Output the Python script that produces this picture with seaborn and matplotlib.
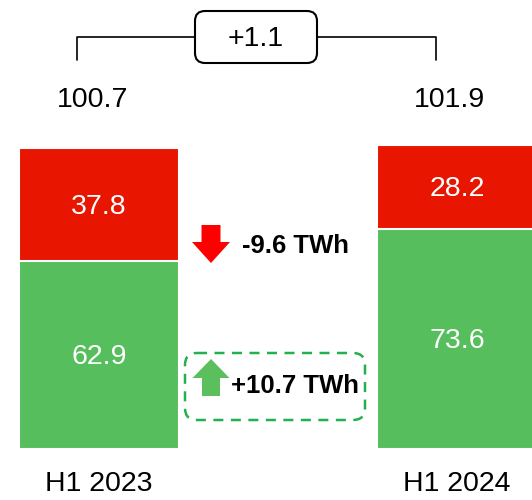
"""Stacked bar: H1 2023 vs H1 2024 generation split (red vs green)."""

import matplotlib

matplotlib.use("Agg")
import matplotlib.pyplot as plt  # noqa: E402
import pandas as pd  # noqa: E402
import seaborn as sns  # noqa: E402
from matplotlib.patches import FancyArrow, FancyBboxPatch  # noqa: E402

periods = ["H1 2023", "H1 2024"]
green_vals = [62.9, 73.6]
red_vals = [37.8, 28.2]
totals = ["100.7", "101.9"]
delta_total = "+1.1"
delta_red = "-9.6 TWh"
delta_green = "+10.7 TWh"

RED = "#E81500"
GREEN = "#57BE5E"

sns.set_theme(style="white")
plt.rcParams["font.family"] = ["Liberation Sans", "DejaVu Sans"]
plt.rcParams["text.color"] = "black"

df = pd.DataFrame({"period": periods, "green": green_vals, "red": red_vals})
df["total"] = df["green"] + df["red"]

fig = plt.figure(figsize=(5.32, 5.0), dpi=100)
ax = fig.add_axes([0, 0, 1, 1])

# stacked: full-height red bar, green drawn over the bottom part
sns.barplot(data=df, x="period", y="total", color=RED, width=0.447,
            saturation=1, edgecolor="white", linewidth=1.5, ax=ax)
sns.barplot(data=df, x="period", y="green", color=GREEN, width=0.447,
            saturation=1, edgecolor="white", linewidth=1.5, ax=ax)

ax.set_xlim(-0.2765, 1.2095)
ax.set_ylim(-17.06, 150.2)
ax.axis("off")

for i, row in df.iterrows():
    ax.text(i, row["green"] / 2 - 0.7, f"{row['green']:.1f}", color="white",
            ha="center", va="center", fontsize=20.5)
    ax.text(i, row["green"] + row["red"] / 2 - 0.7, f"{row['red']:.1f}",
            color="white", ha="center", va="center", fontsize=20.5)
    ax.text(i, -11.7, periods[i], ha="center", va="center", fontsize=20.5)

# overlay in pixel space for the annotations
ov = fig.add_axes([0, 0, 1, 1])
ov.set_xlim(0, 532)
ov.set_ylim(500, 0)
ov.axis("off")

ov.text(93, 100, totals[0], ha="center", va="center", fontsize=20.5)
ov.text(450, 100, totals[1], ha="center", va="center", fontsize=20.5)

# bracket with delta box
ov.plot([77, 77, 436, 436], [60, 37, 37, 60], color="black", lw=1.2)
ov.add_patch(FancyBboxPatch((195, 11), 122, 52,
                            boxstyle="round,pad=0,rounding_size=10",
                            fc="white", ec="black", lw=1.5, zorder=3))
ov.text(256, 39, delta_total, ha="center", va="center", fontsize=20.5,
        zorder=4)

# red down arrow
ov.add_patch(FancyArrow(211, 225, 0, 38, width=19, head_width=38,
                        head_length=21, length_includes_head=True,
                        color="#FF0000", lw=0))
ov.text(242, 246, delta_red, ha="left", va="center", fontsize=18.5,
        fontweight="bold")

# green up arrow in dashed box
ov.add_patch(FancyBboxPatch((185, 353), 180, 67,
                            boxstyle="round,pad=0,rounding_size=12",
                            fc="none", ec="#22B14C", lw=1.8,
                            linestyle=(0, (4, 3))))
ov.add_patch(FancyArrow(211, 396, 0, -37, width=18, head_width=37,
                        head_length=19, length_includes_head=True,
                        color="#5CBF5E", lw=0))
ov.text(231, 386, delta_green, ha="left", va="center", fontsize=18.5,
        fontweight="bold")

fig.savefig("out.png", dpi=100)
